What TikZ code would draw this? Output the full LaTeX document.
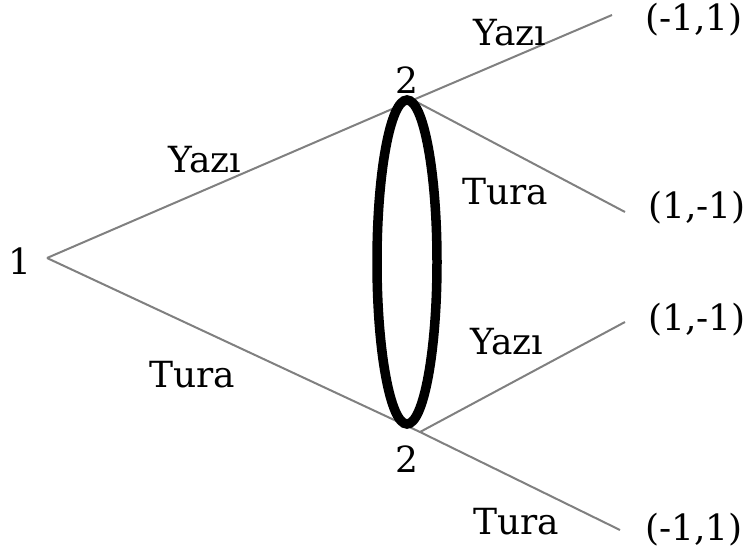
\documentclass[tikz,border=0pt]{standalone}
\usepackage{fontspec}
\setmainfont{DejaVu Serif}
\begin{document}
\begin{tikzpicture}[x=1pt,y=-1pt,
  branch/.style={draw=black!50,line width=2pt},
  lbl/.style={inner sep=0pt,font=\fontsize{36}{40}\selectfont},
  infoset/.style={draw=black,line width=9.5pt}]
\useasboundingbox (0,0) rectangle (750,556);
% decision points
\coordinate (r) at (47,258);
\coordinate (u) at (413,100);
\coordinate (l) at (420,432);
% end points of branches
\coordinate (e1) at (612,15);
\coordinate (e2) at (625,212);
\coordinate (e3) at (625,322);
\coordinate (e4) at (620,530);
% players
\node[lbl] (one) at (20,261) {1};
\node[lbl] (twoU) at (407,80) {2};
\node[lbl] (twoL) at (407,459) {2};
% payoffs
\node[lbl] (p1) at (694,20) {(-1,1)};
\node[lbl] (p2) at (697,208) {(1,-1)};
\node[lbl] (p3) at (697,320) {(1,-1)};
\node[lbl] (p4) at (694,530) {(-1,1)};
% branches
\draw[branch] (r) -- (u) -- (e1);
\draw[branch] (u) -- (e2);
\draw[branch] (r) -- (l) -- (e4);
\draw[branch] (l) -- (e3);
% information set
\draw[infoset] (407,262) ellipse [x radius=30, y radius=162];
% action labels
\node[lbl] (a1) at (205,160) {Yazı};
\node[lbl] (a2) at (192,375) {Tura};
\node[lbl] (a3) at (510,33) {Yazı};
\node[lbl] (a4) at (505,192) {Tura};
\node[lbl] (a5) at (507,342) {Yazı};
\node[lbl] (a6) at (516,522) {Tura};
\end{tikzpicture}
\end{document}
